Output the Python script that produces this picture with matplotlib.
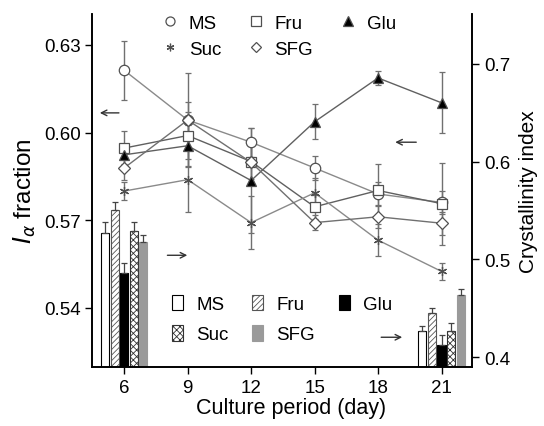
import numpy as np
import matplotlib
matplotlib.use('Agg')
import matplotlib.pyplot as plt
from matplotlib.lines import Line2D
from matplotlib.patches import Patch

plt.rcParams['font.family'] = ['Liberation Sans', 'DejaVu Sans']
plt.rcParams['hatch.linewidth'] = 0.6

days = [6, 9, 12, 15, 18, 21]
names = ['MS', 'Fru', 'Glu', 'Suc', 'SFG']

# I-alpha fraction (left axis)
ia_ms = [0.6213, 0.6043, 0.5967, 0.5879, 0.5790, 0.5761]
ia_fru = [0.5947, 0.5990, 0.5901, 0.5746, 0.5802, 0.5757]
ia_glu = [0.5924, 0.5955, 0.5836, 0.6037, 0.6187, 0.6102]
ia_suc = [0.5800, 0.5839, 0.5692, 0.5794, 0.5632, 0.5525]
ia_sfg = [0.5879, 0.6043, 0.5898, 0.5692, 0.5712, 0.5690]
err_ms = [0.010, 0.006, 0.005, 0.004, 0.004, 0.004]
err_fru = [0.006, 0.008, 0.006, 0.004, 0.009, 0.014]
err_glu = [0.003, 0.007, 0.018, 0.006, 0.0025, 0.0105]
err_suc = [0.003, 0.011, 0.009, 0.005, 0.0055, 0.003]
err_sfg = [0.004, 0.016, 0.007, 0.0025, 0.004, 0.004]

# crystallinity index (right axis), only day 6 and day 21
ci_days = [6, 21]
ci_ms = [0.527, 0.427]
ci_fru = [0.551, 0.445]
ci_glu = [0.486, 0.413]
ci_suc = [0.529, 0.427]
ci_sfg = [0.518, 0.464]
ci_err_ms = [0.011, 0.005]
ci_err_fru = [0.008, 0.005]
ci_err_glu = [0.010, 0.010]
ci_err_suc = [0.009, 0.008]
ci_err_sfg = [0.007, 0.006]

fig, ax = plt.subplots(figsize=(5.44, 4.27), dpi=100)
fig.subplots_adjust(left=0.170, right=0.868, bottom=0.1375, top=0.965)
ax2 = ax.twinx()

# bars on the right axis
bw = 0.38
step = 0.455
bar_styles = [
    dict(color='white', edgecolor='black', lw=0.8),
    dict(color='white', edgecolor='#555555', hatch='//////', lw=0.8),
    dict(color='black', edgecolor='black', lw=0.8),
    dict(color='white', edgecolor='#333333', hatch='xxxxx', lw=0.8),
    dict(color='#9a9a9a', edgecolor='#9a9a9a', lw=0.8),
]
ci_vals = [ci_ms, ci_fru, ci_glu, ci_suc, ci_sfg]
ci_errs = [ci_err_ms, ci_err_fru, ci_err_glu, ci_err_suc, ci_err_sfg]
bar_handles = []
for i in range(5):
    x = np.array(ci_days) + (i - 2) * step
    st = bar_styles[i]
    ax2.bar(x, ci_vals[i], bw, bottom=0, color=st['color'], edgecolor=st['edgecolor'],
            hatch=st.get('hatch'), linewidth=st['lw'], zorder=2)
    ax2.errorbar(x, ci_vals[i], yerr=[[0, 0], ci_errs[i]], fmt='none', ecolor='#444444',
                 elinewidth=0.9, capsize=2, capthick=0.9, zorder=3)
    bar_handles.append(Patch(facecolor=st['color'], edgecolor=st['edgecolor'],
                             hatch=st.get('hatch'), linewidth=0.8, label=names[i]))

# lines on the left axis
ia_vals = [ia_ms, ia_fru, ia_glu, ia_suc, ia_sfg]
ia_errs = [err_ms, err_fru, err_glu, err_suc, err_sfg]
markers = ['o', 's', '^', (6, 2, 0), 'D']
msizes = [7.5, 7.5, 7.5, 6.5, 6]
mfc = ['white', 'white', 'black', '#555555', 'white']
lcol = ['#8a8a8a', '#606060', '#606060', '#8a8a8a', '#707070']
line_handles = []
for i in range(5):
    ax.errorbar(days, ia_vals[i], yerr=ia_errs[i], color=lcol[i], lw=1.0,
                marker=markers[i], ms=msizes[i], mfc=mfc[i], mec='#505050', mew=0.9,
                ecolor='#707070', elinewidth=1.0, capsize=2, capthick=0.9, zorder=4)
    line_handles.append(Line2D([], [], ls='none', marker=markers[i], ms=msizes[i] - 1,
                               mfc=mfc[i], mec='#505050', mew=0.9, label=names[i]))
ax.set_zorder(ax2.get_zorder() + 1)
ax.patch.set_visible(False)

ax.set_xlim(4.5, 22.45)
ax.set_ylim(0.5197, 0.6406)
ax2.set_ylim(0.3898, 0.751)
ax.set_xticks(days)
ax.set_yticks([0.54, 0.57, 0.60, 0.63])
ax.set_yticklabels(['0.54', '0.57', '0.60', '0.63'])
ax2.set_yticks([0.4, 0.5, 0.6, 0.7])

for a in (ax, ax2):
    a.spines['top'].set_visible(False)
    a.tick_params(direction='out', length=5, width=1, labelsize=13.5)
    for s in a.spines.values():
        s.set_linewidth(1.2)

ax.set_xlabel('Culture period (day)', fontsize=15.5, labelpad=2)
ax.xaxis.set_label_coords(0.524, -0.085)
ax.set_ylabel(r'$I_\alpha$ fraction', fontsize=17.5, labelpad=4)
ax2.set_ylabel('Crystallinity index', fontsize=15, labelpad=6)

# legends; order fills columns
order = [0, 3, 1, 4, 2]
leg1 = ax.legend([line_handles[k] for k in order], [names[k] for k in order], ncol=3,
                 frameon=False, loc='upper left', bbox_to_anchor=(0.135, 1.045), fontsize=13.5,
                 handlelength=1.0, handletextpad=0.5, columnspacing=1.35, labelspacing=0.45)
ax.add_artist(leg1)
ax.legend([bar_handles[k] for k in order], [names[k] for k in order], ncol=3,
          frameon=False, loc='lower left', bbox_to_anchor=(0.165, 0.02), fontsize=13.5,
          handlelength=0.6, handleheight=0.9, handletextpad=0.7, columnspacing=1.25,
          labelspacing=0.65)

# direction arrows
arrows = [((0.077, 0.72), (0.012, 0.72)), ((0.19, 0.317), (0.257, 0.317)),
          ((0.86, 0.637), (0.79, 0.637)), ((0.753, 0.085), (0.823, 0.085))]
for start, end in arrows:
    ax.annotate('', xy=end, xytext=start, xycoords='axes fraction',
                arrowprops=dict(arrowstyle='->', color='#333333', lw=1.0))

fig.savefig('out.png', dpi=100)
